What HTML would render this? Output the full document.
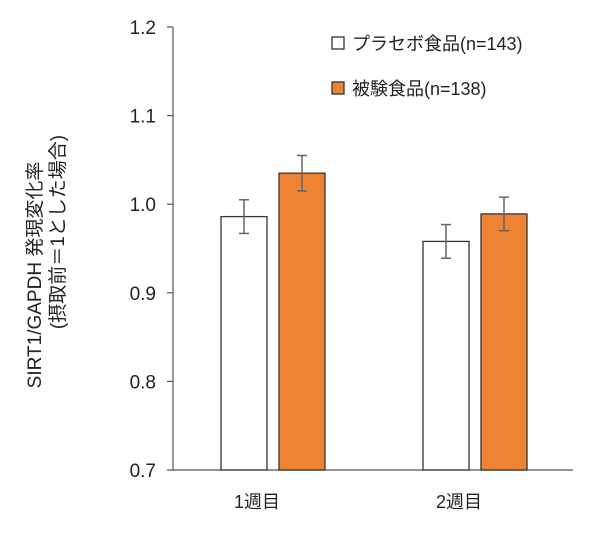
<!DOCTYPE html>
<html><head><meta charset="utf-8"><style>
body{margin:0;background:#fff;}
svg text{font-family:"Liberation Sans","Noto Sans CJK JP",sans-serif;fill:#222;}
</style></head><body>
<svg width="600" height="539" viewBox="0 0 600 539" xmlns="http://www.w3.org/2000/svg">
<g id="axes"></g><g id="bars"></g><g id="legend"></g>
</svg>
<script>
const categories=["1週目","2週目"];
const seriesNames=["プラセボ食品(n=143)","被験食品(n=138)"];
const placebo=[0.986,0.958];
const test=[1.035,0.989];
const placeboErr=[0.019,0.019];
const testErr=[0.020,0.019];
const yTicks=[0.7,0.8,0.9,1.0,1.1,1.2];
const tickLabels=["0.7","0.8","0.9","1.0","1.1","1.2"];
const NS="http://www.w3.org/2000/svg";
const svg=document.querySelector("svg");
const axes=document.getElementById("axes"),bars=document.getElementById("bars"),legend=document.getElementById("legend");
const y0=470,y1=27,vmin=0.7,vmax=1.2;
function y(v){return y0-(v-vmin)/(vmax-vmin)*(y0-y1);}
const groupCenter=[273,475];
function mk(tag,attrs,parent){const e=document.createElementNS(NS,tag);for(const k in attrs)e.setAttribute(k,attrs[k]);parent.appendChild(e);return e;}
const ya=mk("line",{x1:173,y1:y1,x2:173,y2:y0,stroke:"#555","stroke-width":1.2},axes);


const xa=mk("line",{x1:173,y1:y0,x2:573,y2:y0,stroke:"#555","stroke-width":1.2},axes);


yTicks.forEach((t,i)=>{
  const tk=mk("line",{x1:167,y1:y(t),x2:173,y2:y(t),stroke:"#555","stroke-width":1.2},axes);
  
  
  const tx=mk("text",{x:156,y:y(t)+7,"text-anchor":"end","font-size":19},axes);
  tx.textContent=tickLabels[i];
  
  
});
categories.forEach((c,i)=>{
  const tx=mk("text",{x:groupCenter[i]-16,y:508,"text-anchor":"middle","font-size":18},axes);
  tx.textContent=c;
  
  
});
const yt=mk("text",{transform:"translate(41,275) rotate(-90)","text-anchor":"middle","font-size":19},axes);
yt.textContent="SIRT1/GAPDH 発現変化率";


const yt2=mk("text",{transform:"translate(64,232) rotate(-90)","text-anchor":"middle","font-size":19},axes);
yt2.textContent="(摂取前＝1とした場合)";


const bw=46;
function drawBar(cx,v,e,fill,name){
  const r=mk("rect",{x:cx-bw/2,y:y(v),width:bw,height:y0-y(v),fill:fill,stroke:"#333","stroke-width":1.3},bars);
  
  
  const g=mk("g",{stroke:"#666","stroke-width":1.5},bars);
  
  
  mk("line",{x1:cx,y1:y(v+e),x2:cx,y2:y(v-e)},g);
  mk("line",{x1:cx-5,y1:y(v+e),x2:cx+5,y2:y(v+e)},g);
  mk("line",{x1:cx-5,y1:y(v-e),x2:cx+5,y2:y(v-e)},g);
}
categories.forEach((c,i)=>{
  drawBar(groupCenter[i]-29,placebo[i],placeboErr[i],"#fff","bar-placebo-"+(i+1));
  drawBar(groupCenter[i]+29,test[i],testErr[i],"#ee8433","bar-test-"+(i+1));
});
[["#fff",43],["#ee8433",88]].forEach((p,i)=>{
  const r=mk("rect",{x:332,y:p[1]-6,width:12,height:12,fill:p[0],stroke:"#333","stroke-width":1.3},legend);
  
  
  const t=mk("text",{x:352,y:p[1]+7,"font-size":18},legend);
  t.textContent=seriesNames[i];
  
  
});
</script>
</body></html>
